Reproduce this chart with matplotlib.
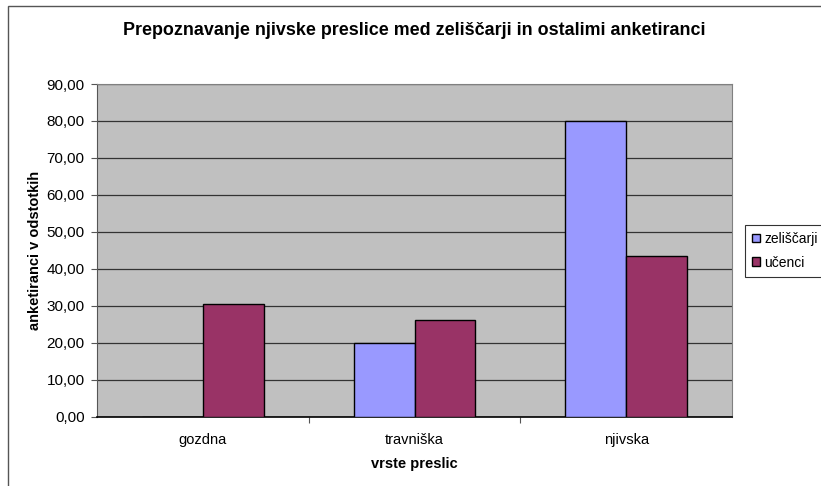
import matplotlib.pyplot as plt
import matplotlib.patches as mpatches
import numpy as np

plt.rcParams['font.family'] = ['Liberation Sans', 'DejaVu Sans']

# podatki
kategorije = ['gozdna', 'travniška', 'njivska']
zeliscarji = [0.0, 20.0, 80.0]
ucenci = [30.4, 26.1, 43.4]
serije = ['zeliščarji', 'učenci']
barve = ['#9999FF', '#993366']

W, H = 821, 486
fig = plt.figure(figsize=(W / 100, H / 100), dpi=100)

# okvir grafikona (zgoraj in levo vidna črta)
fig.patches.append(mpatches.Rectangle((8 / W, -0.1), 1.2, 1 - 6 / H + 0.1,
                                      transform=fig.transFigure, fill=False,
                                      edgecolor='#555555', linewidth=1.0))

ax = fig.add_axes([97 / W, 1 - 416.7 / H, (732 - 97) / W, (416.7 - 84) / H])
ax.set_facecolor('#C0C0C0')

x = np.arange(len(kategorije))
w = 0.288
ax.bar(x - w / 2, zeliscarji, w, color=barve[0], edgecolor='black', linewidth=1.0,
       label=serije[0], zorder=3)
ax.bar(x + w / 2, ucenci, w, color=barve[1], edgecolor='black', linewidth=1.0,
       label=serije[1], zorder=3)

ax.set_xlim(-0.5, 2.5)
ax.set_ylim(0, 90)
ax.set_yticks(np.arange(0, 91, 10))
ax.set_yticklabels([f'{v:.2f}'.replace('.', ',') for v in range(0, 91, 10)], fontsize=11)
ax.yaxis.grid(True, color='#333333', linewidth=0.9, zorder=1)
ax.set_axisbelow(True)

# oznake kategorij brez kljukic, kljukice na mejah
ax.set_xticks([0.5, 1.5])
ax.set_xticklabels([])
ax.set_xticks(x, minor=True)
ax.set_xticklabels(kategorije, minor=True, fontsize=10.5)
ax.tick_params(axis='x', which='minor', length=0, pad=12)
ax.tick_params(axis='x', which='major', length=4, color='#555555')
ax.tick_params(axis='y', length=4, color='#555555', pad=5)

for s in ['top', 'right']:
    ax.spines[s].set_color('#808080')
    ax.spines[s].set_linewidth(0.8)
ax.spines['left'].set_color('#555555')
ax.spines['bottom'].set_color('black')
ax.spines['bottom'].set_linewidth(1.2)

ax.set_xlabel('vrste preslic', fontsize=10.5, fontweight='bold', labelpad=7)
ax.set_ylabel('anketiranci v odstotkih', fontsize=10.5, fontweight='bold', labelpad=3)

fig.text((97 + 732) / 2 / W, 1 - 30 / H,
         'Prepoznavanje njivske preslice med zeliščarji in ostalimi anketiranci',
         ha='center', va='center', fontsize=12.9, fontweight='bold')

leg = ax.legend(loc='upper left', bbox_to_anchor=(745 / W, 1 - 225 / H),
                bbox_transform=fig.transFigure, fontsize=10, frameon=True,
                fancybox=False, edgecolor='black', handlelength=0.6,
                handleheight=0.6, handletextpad=0.3, borderpad=0.5,
                labelspacing=0.7, borderaxespad=0)
leg.get_frame().set_linewidth(0.8)

fig.savefig('out.png', dpi=100)
